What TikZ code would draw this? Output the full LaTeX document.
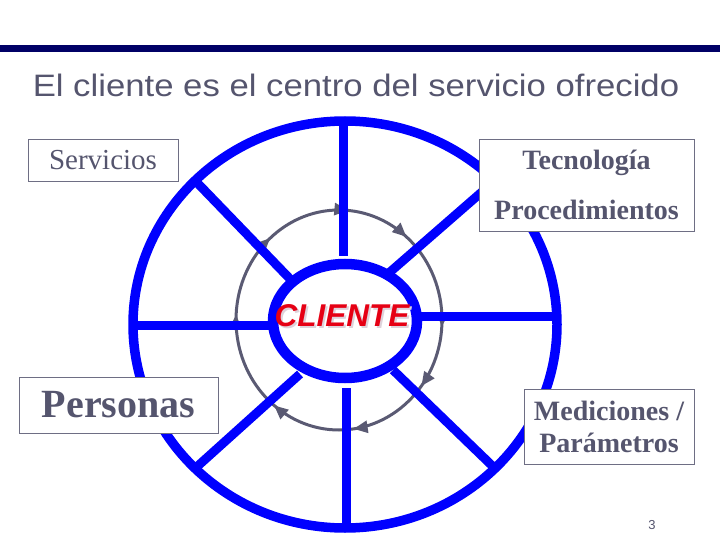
\documentclass[tikz,border=0pt]{standalone}
\usepackage{fontspec}
\usepackage{graphicx}
\setmainfont{Liberation Serif}
\setsansfont{Liberation Sans}
\usetikzlibrary{arrows.meta,decorations.markings}

\definecolor{navy}{RGB}{0,0,102}
\definecolor{slate}{RGB}{85,85,110}
\definecolor{wheel}{RGB}{0,0,255}
\definecolor{loopgray}{RGB}{90,90,115}
\definecolor{clientred}{RGB}{230,0,20}
\definecolor{clientshade}{RGB}{222,210,218}

\begin{document}
\begin{tikzpicture}[x=1pt,y=-1pt,>={Triangle[length=14pt,width=12pt]},
	box/.style={draw=slate!85,line width=0.8pt,fill=white,text=slate,align=center,inner sep=0pt},
	spoke/.style={color=wheel,line width=9pt}]

\useasboundingbox (0,0) rectangle (720,540);

\def\cx{345}
\def\cy{324.5}
\def\rx{212}
\def\ry{203.5}

\coordinate (T) at (343,121);
\coordinate (Ti) at (343,256);
\coordinate (Bo) at (346,528);
\coordinate (Boi) at (346,388);
\coordinate (L) at (133,325);
\coordinate (Li) at (272,325);
\coordinate (R) at (557,316);
\coordinate (Ri) at (418,316);
\coordinate (UL) at ({\cx-0.707*\rx},{\cy-0.707*\ry});
\coordinate (ULi) at (292,281);
\coordinate (UR) at ({\cx+0.707*\rx},{\cy-0.707*\ry});
\coordinate (URi) at (390,272);
\coordinate (LL) at ({\cx-0.707*\rx},{\cy+0.707*\ry});
\coordinate (LLi) at (300,374);
\coordinate (LR) at ({\cx+0.707*\rx},{\cy+0.707*\ry});
\coordinate (LRi) at (393,370);

\fill[color=navy] (0,45) rectangle (720,52);
\node[text=slate,font=\sffamily\fontsize{31}{34}\selectfont] (title) at (356,85)
	{\scalebox{1.12}[1]{El cliente es el centro del servicio ofrecido}};

\draw[color=loopgray,line width=3pt,postaction={decorate},
	decoration={markings,
		mark=at position 0.01 with {\arrow{>}},
		mark=at position 0.105 with {\arrow{>}},
		mark=at position 0.228 with {\arrow{>}},
		mark=at position 0.356 with {\arrow{>}},
		mark=at position 0.508 with {\arrow{>}},
		mark=at position 0.636 with {\arrow{>}},
		mark=at position 0.764 with {\arrow{>}},
		mark=at position 0.861 with {\arrow{>}}}]
	(339,320) ellipse [x radius=103,y radius=110];

\draw[color=wheel,line width=9.5pt] (\cx,\cy) ellipse [x radius=\rx,y radius=\ry];

\draw[spoke] (T)--(Ti);
\draw[spoke] (Bo)--(Boi);
\draw[spoke] (L)--(Li);
\draw[spoke] (R)--(Ri);
\draw[spoke] (UL)--(ULi);
\draw[spoke] (UR)--(URi);
\draw[spoke] (LL)--(LLi);
\draw[spoke] (LR)--(LRi);

\draw[color=wheel,fill=white,line width=10.5pt] (345,321) ellipse [x radius=72,y radius=57];

\node[text=clientred,font=\sffamily\bfseries\itshape\fontsize{31.5}{32}\selectfont]
	(client) at (342,317)
	{\rlap{\hspace{2pt}\raisebox{-2pt}{\color{clientshade}CLIENTE}}CLIENTE};

\node[box,minimum width=150pt,minimum height=42pt,font=\fontsize{29}{30}\selectfont]
	(serv) at (103,160) {Servicios};
\node[box,minimum width=215pt,minimum height=92pt,font=\bfseries\fontsize{28}{50}\selectfont]
	(tecno) at (586.5,185) {Tecnología\\Procedimientos};
\node[box,minimum width=199pt,minimum height=56pt,font=\bfseries\fontsize{40}{40}\selectfont]
	(pers) at (118.5,405) {Personas};
\node[box,minimum width=170pt,minimum height=75pt,font=\bfseries\fontsize{28}{32}\selectfont]
	(medic) at (609,426.5) {Mediciones /\\Parámetros};

\node[text=slate,font=\sffamily\fontsize{13}{13}\selectfont] (pagenum) at (652,525) {3};

\end{tikzpicture}
\end{document}
